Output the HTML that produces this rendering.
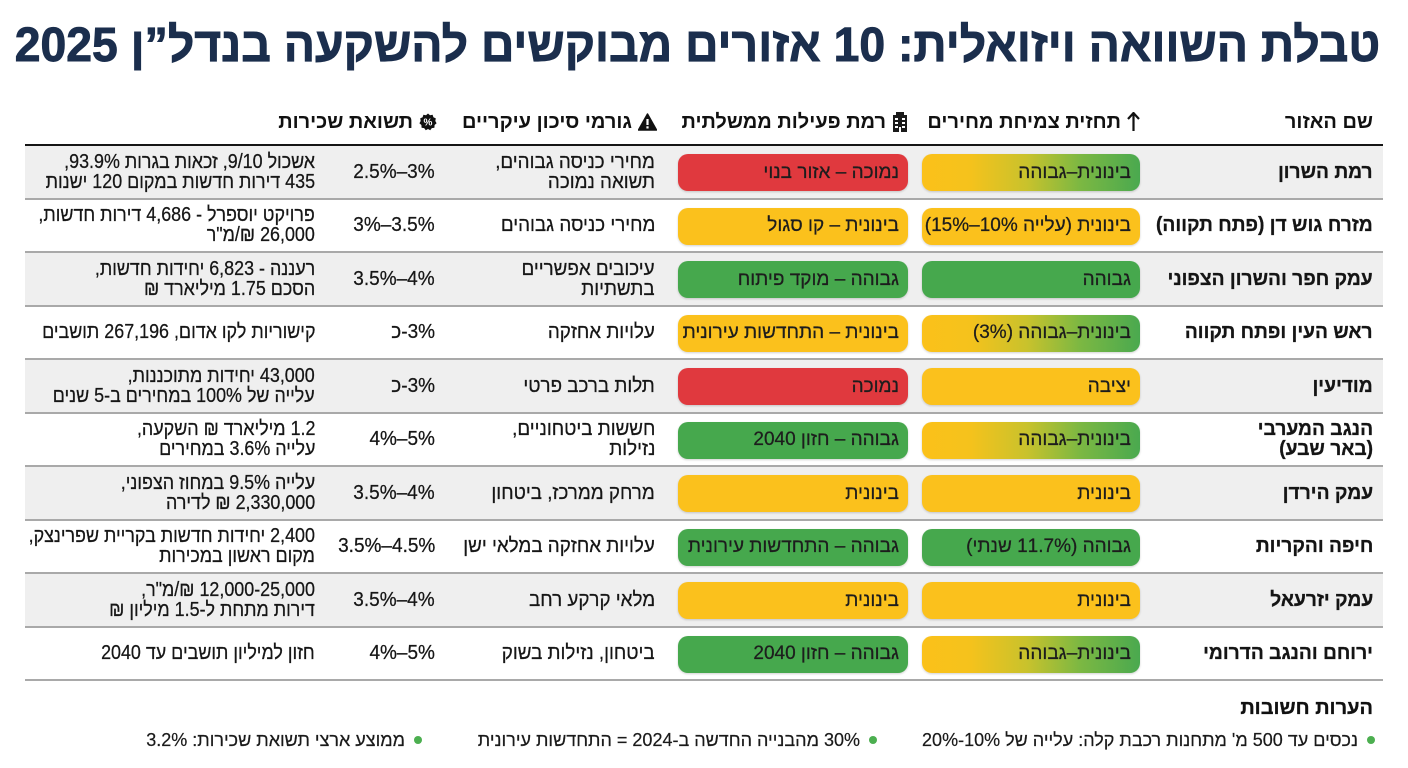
<!DOCTYPE html>
<html lang="he" dir="rtl">
<head>
<meta charset="utf-8">
<style>
*{margin:0;padding:0;box-sizing:border-box}
html,body{width:1408px;height:768px;background:#fff;overflow:hidden}
body{font-family:"Liberation Sans","DejaVu Sans",sans-serif;color:#161616;position:relative}
.title{position:absolute;left:0;top:22px;width:1408px;text-align:center;white-space:nowrap;direction:rtl}
.title span{display:inline-block;font-size:48px;line-height:1;font-weight:bold;color:#1b2e4d;transform:scaleX(0.965);transform-origin:center center;-webkit-text-stroke:0.9px #1b2e4d;position:relative;left:-3px}
.hd{position:absolute;top:110px;height:24px;font-size:20px;line-height:20px;font-weight:bold;white-space:nowrap;display:flex;align-items:center;direction:rtl;color:#111}
.hd svg{margin-left:6px;flex:none}
.topline{position:absolute;left:25px;top:144px;width:1358px;height:2px;background:#151515}
.row{position:absolute;left:25px;width:1358px;height:53.5px;border-bottom:2px solid #a9a9a9}
.g{background:#efefef}
.w{background:#fff}
.c{position:absolute;top:0;height:100%;display:flex;align-items:center;white-space:nowrap;font-size:20px;line-height:20px;text-align:right;direction:rtl;-webkit-text-stroke:0.25px #161616}
.c>div{transform-origin:right center}
.c1{right:10px;font-weight:bold;font-size:20px;color:#151515;-webkit-text-stroke:0.3px #151515}
.c1>div{transform:scaleX(0.96)}
.c4{right:728px}
.c4>div{transform:scaleX(0.94)}
.c5{right:948px}
.c5>div{transform:scaleX(0.95);display:flex;direction:ltr}
.c6{right:1068px}
.c6>div{transform:scaleX(0.895)}
.pill{position:absolute;top:8px;height:37px;border-radius:10px;display:flex;align-items:center;padding-right:9px;font-size:19px;white-space:nowrap;direction:rtl;color:#1d1d1d;box-shadow:0 1px 2px rgba(0,0,0,.18);-webkit-text-stroke:0.25px #1d1d1d}
.p2{left:897px;width:218px}
.p3{left:653px;width:230px}
.r{background:#e0393e}
.y{background:#fbc11c}
.gr{background:#46a84d}
.yg{background:linear-gradient(to right,#fbc11a 0%,#f5c21c 22%,#c9c22c 48%,#7db842 72%,#4aa94f 100%)}
.foot-h{position:absolute;right:35px;top:697px;font-size:20px;line-height:22px;font-weight:bold;color:#111;white-space:nowrap;-webkit-text-stroke:0.3px #111}
.b{position:absolute;top:729px;height:22px;display:flex;align-items:center;font-size:18px;line-height:20px;white-space:nowrap;direction:rtl;color:#1a1a1a;-webkit-text-stroke:0.2px #1a1a1a}
.dot{width:8px;height:8px;border-radius:50%;background:#4caf50;margin-left:9px;flex:none}
</style>
</head>
<body>

<div class="title"><span>טבלת השוואה ויזואלית: 10 אזורים מבוקשים להשקעה בנדל”ן 2025</span></div>

<div class="hd" style="right:35px">שם האזור</div>
<div class="hd" style="right:268px"><svg width="13" height="20" viewBox="0 0 13 20"><path d="M6.5 1 L6.5 19 M1 7 L6.5 1 L12 7" stroke="#111" stroke-width="2.2" fill="none"/></svg>תחזית צמיחת מחירים</div>
<div class="hd" style="right:500px"><svg width="16" height="20" viewBox="0 0 16 20"><rect x="1" y="3" width="14" height="17" fill="#1a1a1a"/><rect x="4" y="0" width="8" height="4" fill="#1a1a1a"/><g fill="#fff"><rect x="3" y="6" width="3" height="2"/><rect x="10" y="6" width="3" height="2"/><rect x="3" y="10" width="3" height="2"/><rect x="10" y="10" width="3" height="2"/><rect x="3" y="14" width="3" height="2"/><rect x="10" y="14" width="3" height="2"/><rect x="7" y="15" width="2" height="5"/></g></svg>רמת פעילות ממשלתית</div>
<div class="hd" style="right:751px"><svg width="19" height="18" viewBox="0 0 19 18"><path d="M9.5 1 L18.5 17 L0.5 17 Z" fill="#111" stroke="#111" stroke-linejoin="round" stroke-width="1.5"/><rect x="8.4" y="6" width="2.2" height="6" fill="#fff"/><rect x="8.4" y="13.3" width="2.2" height="2.2" fill="#fff"/></svg>גורמי סיכון עיקריים</div>
<div class="hd" style="right:971px"><svg width="18" height="18" viewBox="0 0 18 18"><path d="M9 0.5 L11 2.3 L13.6 1.8 L14.4 4.3 L16.8 5.4 L16.3 8 L17.6 10.3 L15.6 12 L15.4 14.7 L12.8 15.1 L11.2 17.2 L9 16 L6.8 17.2 L5.2 15.1 L2.6 14.7 L2.4 12 L0.4 10.3 L1.7 8 L1.2 5.4 L3.6 4.3 L4.4 1.8 L7 2.3 Z" fill="#111"/><text x="9" y="12.5" font-size="10" font-weight="bold" fill="#fff" text-anchor="middle" font-family="Liberation Sans, sans-serif">%</text></svg>תשואת שכירות</div>

<div class="topline"></div>

<!-- Row 1 -->
<div class="row g" style="top:146px">
  <div class="c c1"><div>רמת השרון</div></div>
  <div class="pill p2 yg">בינונית–גבוהה</div>
  <div class="pill p3 r">נמוכה – אזור בנוי</div>
  <div class="c c4"><div>מחירי כניסה גבוהים,<br>תשואה נמוכה</div></div>
  <div class="c c5"><div><span>2.5%</span><span>–</span><span>3%</span></div></div>
  <div class="c c6"><div>אשכול 9/10, זכאות בגרות 93.9%,<br>435 דירות חדשות במקום 120 ישנות</div></div>
</div>

<!-- Row 2 -->
<div class="row w" style="top:199.5px">
  <div class="c c1"><div>מזרח גוש דן (פתח תקווה)</div></div>
  <div class="pill p2 y">בינונית (עלייה 10%–15%)</div>
  <div class="pill p3 y">בינונית – קו סגול</div>
  <div class="c c4"><div>מחירי כניסה גבוהים</div></div>
  <div class="c c5"><div><span>3%</span><span>–</span><span>3.5%</span></div></div>
  <div class="c c6"><div>פרויקט יוספרל - 4,686 דירות חדשות,<br>26,000 ₪/מ"ר</div></div>
</div>

<!-- Row 3 -->
<div class="row g" style="top:253px">
  <div class="c c1"><div>עמק חפר והשרון הצפוני</div></div>
  <div class="pill p2 gr">גבוהה</div>
  <div class="pill p3 gr">גבוהה – מוקד פיתוח</div>
  <div class="c c4"><div>עיכובים אפשריים<br>בתשתיות</div></div>
  <div class="c c5"><div><span>3.5%</span><span>–</span><span>4%</span></div></div>
  <div class="c c6"><div>רעננה - 6,823 יחידות חדשות,<br>הסכם 1.75 מיליארד ₪</div></div>
</div>

<!-- Row 4 -->
<div class="row w" style="top:306.5px">
  <div class="c c1"><div>ראש העין ופתח תקווה</div></div>
  <div class="pill p2 yg">בינונית–גבוהה (3%)</div>
  <div class="pill p3 y">בינונית – התחדשות עירונית</div>
  <div class="c c4"><div>עלויות אחזקה</div></div>
  <div class="c c5"><div><span>כ</span><span>-</span><span>3%</span></div></div>
  <div class="c c6"><div>קישוריות לקו אדום, 267,196 תושבים</div></div>
</div>

<!-- Row 5 -->
<div class="row g" style="top:360px">
  <div class="c c1"><div>מודיעין</div></div>
  <div class="pill p2 y">יציבה</div>
  <div class="pill p3 r">נמוכה</div>
  <div class="c c4"><div>תלות ברכב פרטי</div></div>
  <div class="c c5"><div><span>כ</span><span>-</span><span>3%</span></div></div>
  <div class="c c6"><div>43,000 יחידות מתוכננות,<br>עלייה של 100% במחירים ב-5 שנים</div></div>
</div>

<!-- Row 6 -->
<div class="row w" style="top:413.5px">
  <div class="c c1"><div>הנגב המערבי<br>(באר שבע)</div></div>
  <div class="pill p2 yg">בינונית–גבוהה</div>
  <div class="pill p3 gr">גבוהה – חזון 2040</div>
  <div class="c c4"><div>חששות ביטחוניים,<br>נזילות</div></div>
  <div class="c c5"><div><span>4%</span><span>–</span><span>5%</span></div></div>
  <div class="c c6"><div>1.2 מיליארד ₪ השקעה,<br>עלייה 3.6% במחירים</div></div>
</div>

<!-- Row 7 -->
<div class="row g" style="top:467px">
  <div class="c c1"><div>עמק הירדן</div></div>
  <div class="pill p2 y">בינונית</div>
  <div class="pill p3 y">בינונית</div>
  <div class="c c4"><div>מרחק ממרכז, ביטחון</div></div>
  <div class="c c5"><div><span>3.5%</span><span>–</span><span>4%</span></div></div>
  <div class="c c6"><div>עלייה 9.5% במחוז הצפוני,<br>2,330,000 ₪ לדירה</div></div>
</div>

<!-- Row 8 -->
<div class="row w" style="top:520.5px">
  <div class="c c1"><div>חיפה והקריות</div></div>
  <div class="pill p2 gr">גבוהה (11.7% שנתי)</div>
  <div class="pill p3 gr">גבוהה – התחדשות עירונית</div>
  <div class="c c4"><div>עלויות אחזקה במלאי ישן</div></div>
  <div class="c c5"><div><span>3.5%</span><span>–</span><span>4.5%</span></div></div>
  <div class="c c6"><div>2,400 יחידות חדשות בקריית שפרינצק,<br>מקום ראשון במכירות</div></div>
</div>

<!-- Row 9 -->
<div class="row g" style="top:574px">
  <div class="c c1"><div>עמק יזרעאל</div></div>
  <div class="pill p2 y">בינונית</div>
  <div class="pill p3 y">בינונית</div>
  <div class="c c4"><div>מלאי קרקע רחב</div></div>
  <div class="c c5"><div><span>3.5%</span><span>–</span><span>4%</span></div></div>
  <div class="c c6"><div>12,000-25,000 ₪/מ"ר,<br>דירות מתחת ל-1.5 מיליון ₪</div></div>
</div>

<!-- Row 10 -->
<div class="row w" style="top:627.5px">
  <div class="c c1"><div>ירוחם והנגב הדרומי</div></div>
  <div class="pill p2 yg">בינונית–גבוהה</div>
  <div class="pill p3 gr">גבוהה – חזון 2040</div>
  <div class="c c4"><div>ביטחון, נזילות בשוק</div></div>
  <div class="c c5"><div><span>4%</span><span>–</span><span>5%</span></div></div>
  <div class="c c6"><div>חזון למיליון תושבים עד 2040</div></div>
</div>

<div class="foot-h">הערות חשובות</div>
<div class="b" style="right:33px"><span class="dot"></span>נכסים עד 500 מ' מתחנות רכבת קלה: עלייה של 10%-20%</div>
<div class="b" style="right:531px"><span class="dot"></span>30% מהבנייה החדשה ב-2024 = התחדשות עירונית</div>
<div class="b" style="right:986px"><span class="dot"></span>ממוצע ארצי תשואת שכירות: 3.2%</div>

</body>
</html>
